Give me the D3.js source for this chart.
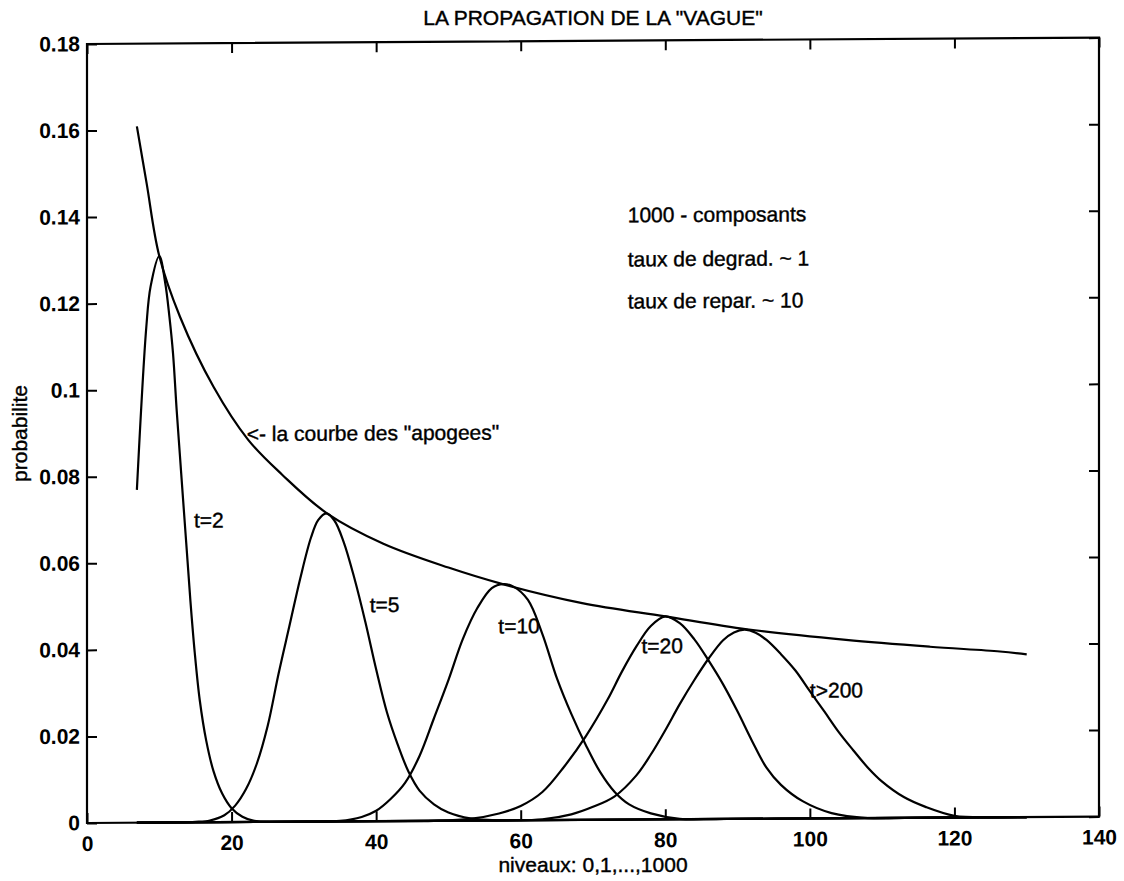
<!DOCTYPE html>
<html>
<head>
<meta charset="utf-8">
<script src="https://cdn.jsdelivr.net/npm/d3@7/dist/d3.min.js"></script>
<style>
  body { margin: 0; background: #fff; }
  text { font-family: "Liberation Sans", Arial, Helvetica, sans-serif; fill: #000; }
</style>
</head>
<body>
<div id="chart"></div>
<script>
const WIDTH = 1124, HEIGHT = 881

// axis ticks
const xTicks = [0, 20, 40, 60, 80, 100, 120, 140]
const yTicks = [0, 0.02, 0.04, 0.06, 0.08, 0.1, 0.12, 0.14, 0.16, 0.18]
const yTickLabels = ["0", "0.02", "0.04", "0.06", "0.08", "0.1", "0.12", "0.14", "0.16", "0.18"]

// la courbe des apogees
const apogeeX = [6.9, 8.25, 10, 12.85, 17.5, 22.3, 27, 33.2, 41, 50, 57.5, 68.5, 80, 91.3, 105, 116.6, 126.3, 130]
const apogeeY = [0.1609, 0.1477, 0.1309, 0.1169, 0.1006, 0.0883, 0.0802, 0.0712, 0.0641, 0.0585, 0.0546, 0.0501, 0.0469, 0.0438, 0.0412, 0.0395, 0.0383, 0.0376]

// t=2
const t2X = [6.9, 8.2, 8.8, 10, 10.8, 11.4, 11.9, 12.4, 12.85, 13.3, 13.8, 14.3, 14.9, 15.6, 16.5, 17.5, 18.7, 20, 21.5, 23, 26, 30, 130]
const t2Y = [0.0769, 0.1144, 0.1239, 0.1309, 0.1249, 0.1169, 0.1084, 0.0954, 0.0849, 0.0744, 0.0629, 0.0513, 0.0393, 0.0282, 0.0188, 0.0118, 0.0066, 0.0032, 0.0012, 0.0003, 0, 0, 0]

// t=5
const t5X = [6.9, 12, 15, 17, 19, 20.5, 22, 23.5, 25, 26.5, 28, 29.5, 31, 32, 33.1, 34.2, 35.5, 37, 38.5, 40, 41.5, 43, 44.5, 46, 48, 50, 53, 57, 62, 130]
const t5Y = [0, 0, 0.0001, 0.0004, 0.0016, 0.0038, 0.0076, 0.0135, 0.0222, 0.0342, 0.0452, 0.0562, 0.0657, 0.0697, 0.0712, 0.0696, 0.0646, 0.0561, 0.0461, 0.0351, 0.0251, 0.0176, 0.0113, 0.007, 0.0038, 0.0019, 0.0005, 0, 0, 0]

// t=10
const t10X = [6.9, 30, 35, 38, 40, 42, 44, 46, 48, 50, 52, 54, 56, 57.6, 59, 61, 63, 65, 67, 69, 71, 73, 75, 78, 82, 87, 95, 130]
const t10Y = [0, 0, 0.0001, 0.001, 0.0024, 0.0051, 0.0088, 0.015, 0.0237, 0.0325, 0.042, 0.0491, 0.0537, 0.0546, 0.054, 0.0509, 0.043, 0.0328, 0.0245, 0.0173, 0.011, 0.0064, 0.0035, 0.0014, 0.0001, 0, 0, 0]

// t=20
const t20X = [6.9, 40, 48, 53, 57, 60, 63, 66, 69, 72, 74, 76, 78, 80, 82, 84, 86, 88, 90, 92, 94, 96, 99, 103, 108, 115, 130]
const t20Y = [0, 0, 0, 0.0004, 0.0016, 0.0033, 0.0065, 0.0123, 0.0193, 0.0277, 0.0342, 0.04, 0.0447, 0.0469, 0.0453, 0.0416, 0.0366, 0.0311, 0.0248, 0.018, 0.0118, 0.0078, 0.004, 0.0012, 0, 0, 0]

// t>200
const t200X = [6.9, 50, 58, 63, 67, 70, 73, 76, 78, 80, 82, 84, 86, 88, 89.5, 91, 92.5, 94, 96, 98, 100, 102, 104, 106, 108, 110, 113, 116, 120, 125, 130]
const t200Y = [0, 0, 0, 0.0002, 0.0013, 0.003, 0.0054, 0.0102, 0.015, 0.0206, 0.0266, 0.0321, 0.0371, 0.0413, 0.0431, 0.0437, 0.043, 0.0413, 0.038, 0.0342, 0.0294, 0.0247, 0.0199, 0.0157, 0.0117, 0.0084, 0.0048, 0.0025, 0.0004, 0, 0]

// text placed in data coordinates, like matlab text(x, y, ...)
const labelText = ["t=2", "t=5", "t=10", "t=20", "t>200", "<- la courbe des \"apogees\"",
    "1000 - composants", "taux de degrad. ~ 1", "taux de repar. ~ 10"]
const labelX = [14.8, 39.1, 56.9, 76.7, 100, 22.1, 74.8, 74.8, 74.8]
const labelY = [0.0698, 0.05, 0.0449, 0.0401, 0.0296, 0.0897, 0.1397, 0.1295, 0.1198]

const LEFT = 87, TOP = 44, RIGHT = 1099, BOTTOM = 823
const SKEW = -0.362   // the scanned page is a little skewed, right side sits higher

const svg = d3.select("#chart").append("svg").attr("width", WIDTH).attr("height", HEIGHT)
svg.append("rect").attr("width", WIDTH).attr("height", HEIGHT).attr("fill", "#fff")

const plot = svg.append("g")
    .attr("transform", "translate(" + LEFT + ",0) skewY(" + SKEW + ") translate(" + (-LEFT) + ",0)")

const x = d3.scaleLinear().domain([0, 140]).range([LEFT, RIGHT])
const y = d3.scaleLinear().domain([0, 0.18]).range([BOTTOM, TOP])

// axes, ticks pointing inward on all four sides
const fmtY = d => yTickLabels[yTicks.indexOf(d)]
plot.append("g").attr("transform", "translate(0," + BOTTOM + ")")
    .call(d3.axisBottom(x).tickValues(xTicks).tickSizeInner(-10).tickSizeOuter(0).tickPadding(13))
plot.append("g").attr("transform", "translate(" + LEFT + ",0)")
    .call(d3.axisLeft(y).tickValues(yTicks).tickFormat(fmtY).tickSizeInner(-10).tickSizeOuter(0).tickPadding(7))
plot.append("g").attr("transform", "translate(0," + TOP + ")")
    .call(d3.axisTop(x).tickValues(xTicks).tickFormat("").tickSizeInner(-10).tickSizeOuter(0))
plot.append("g").attr("transform", "translate(" + RIGHT + ",0)")
    .call(d3.axisRight(y).tickValues(yTicks).tickFormat("").tickSizeInner(-10).tickSizeOuter(0))

plot.selectAll(".domain").remove()
plot.selectAll(".tick line").attr("stroke", "#000").attr("stroke-width", 2)
plot.selectAll(".tick text").attr("font-size", 21).attr("fill", "#000")
    .attr("font-family", "Liberation Sans, Arial, sans-serif").attr("font-weight", "bold")

plot.append("rect").attr("x", LEFT).attr("y", TOP).attr("width", RIGHT - LEFT).attr("height", BOTTOM - TOP)
    .attr("fill", "none").attr("stroke", "#000").attr("stroke-width", 2.2)

// curves
const series = [[apogeeX, apogeeY], [t2X, t2Y], [t5X, t5Y], [t10X, t10Y], [t20X, t20Y], [t200X, t200Y]]
const line = d3.line().x(d => x(d[0])).y(d => y(Math.max(0, d[1]))).curve(d3.curveCatmullRom.alpha(0.5))

series.forEach(s => {
    const pts = s[0].map((v, i) => [v, s[1][i]])
    plot.append("path").attr("d", line(pts)).attr("fill", "none")
        .attr("stroke", "#000").attr("stroke-width", 2.2).attr("stroke-linejoin", "round")
})

labelText.forEach((t, i) => {
    plot.append("text").attr("x", x(labelX[i])).attr("y", y(labelY[i])).attr("dy", "0.35em")
        .attr("font-size", 21).attr("stroke", "#000").attr("stroke-width", 0.4).text(t)
})

// titles
svg.append("text").attr("x", (LEFT + RIGHT) / 2).attr("y", 25).attr("text-anchor", "middle")
    .attr("font-size", 21).attr("stroke", "#000").attr("stroke-width", 0.4).text("LA PROPAGATION DE LA \"VAGUE\"")
svg.append("text").attr("x", (LEFT + RIGHT) / 2).attr("y", 872).attr("text-anchor", "middle")
    .attr("font-size", 21).attr("stroke", "#000").attr("stroke-width", 0.4).text("niveaux: 0,1,...,1000")
svg.append("text").attr("transform", "rotate(-90)").attr("x", -(TOP + BOTTOM) / 2).attr("y", 27)
    .attr("text-anchor", "middle").attr("font-size", 21).attr("stroke", "#000").attr("stroke-width", 0.4).text("probabilite")
</script>
</body>
</html>
